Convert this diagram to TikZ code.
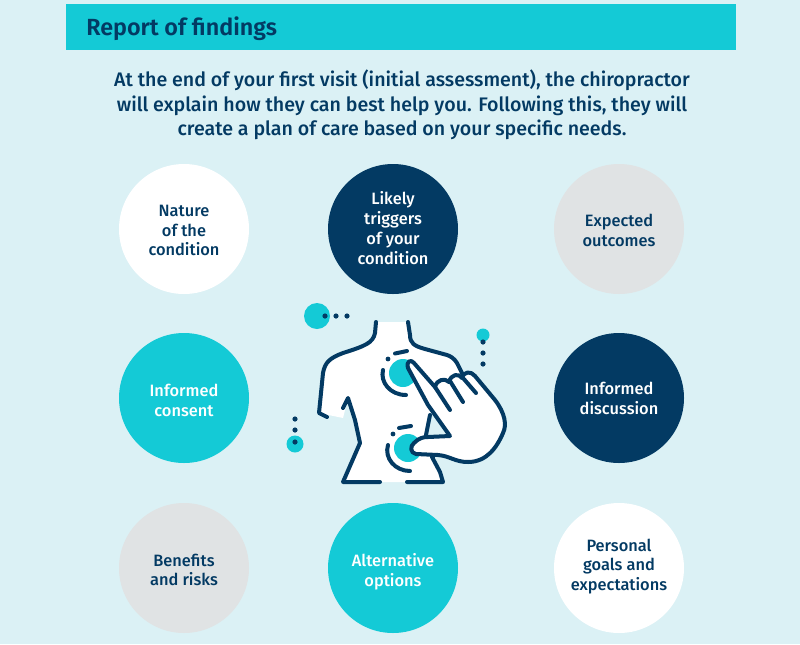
\documentclass[tikz,border=0pt]{standalone}
\usepackage{fontspec}
\setmainfont{Fira Sans Medium}[BoldFont={Fira Sans SemiBold}]
\definecolor{paleblue}{HTML}{DBF1F5}
\definecolor{teal1}{HTML}{14CAD6}
\definecolor{navy}{HTML}{033A63}
\definecolor{pale}{HTML}{E0E3E4}
\tikzset{
 disctext/.style={inner sep=0pt,align=center,font=\fontsize{12.3}{14.8}\selectfont},
 outline/.style={draw=navy,line width=3pt,line cap=round,line join=round}
}
\begin{document}
\begin{tikzpicture}[x=.75pt,y=-.75pt]
\fill[paleblue] (0,0) rectangle (800,644);
\useasboundingbox (0,0) rectangle (800,644);
\fill[teal1] (66,4) rectangle (736,50);
\node[anchor=west,inner sep=0pt,text=navy,font=\fontsize{17.5}{20}\selectfont\bfseries] (title) at (86,29) {Report of findings};
\node[align=center,text=navy,inner sep=0pt,font=\fontsize{14.7}{18.4}\selectfont] (intro) at (402,105)
 {At the end of your first visit (initial assessment), the chiropractor\\
  will explain how they can best help you. Following this, they will\\
  create a plan of care based on your specific needs.};

\fill[white] (184,229) circle (65);
\fill[navy] (393,229) circle (65);
\fill[pale] (619,229) circle (65);
\fill[teal1] (184,398) circle (65);
\fill[navy] (619,398) circle (65);
\fill[pale] (184,568) circle (65);
\fill[teal1] (393,568) circle (65);
\fill[white] (619,568) circle (65);
\node[disctext,text=navy] (nature) at (184,230.5) {Nature\\of the\\condition};
\node[disctext,text=white] (triggers) at (393,228) {Likely\\triggers\\of your\\condition};
\node[disctext,text=navy] (outcomes) at (619,230.5) {Expected\\outcomes};
\node[disctext,text=white] (consent) at (184,400.5) {Informed\\consent};
\node[disctext,text=white] (discussion) at (619,398.5) {Informed\\discussion};
\node[disctext,text=navy] (benefits) at (184,570) {Benefits\\and risks};
\node[disctext,text=white] (options) at (393,572) {Alternative\\options};
\node[disctext,text=navy] (goals) at (619,566.5) {Personal\\goals and\\expectations};

% small dots around the body
\fill[teal1] (317,316) circle (13);
\fill[teal1] (483,335) circle (6.5);
\fill[teal1] (295,444) circle (8.5);
\foreach \p in {(325,316),(336,316),(347,316),(483,342),(483,353),(483,364),(295,419),(295,430),(295,442)}
 \fill[navy] \p circle (2.6);

% body
\fill[white] (376,322) -- (375,333) .. controls (373,343) and (365,346) .. (343,353)
 .. controls (330,358) and (325,362) .. (323,373) -- (319,413) -- (343,418) -- (348,398)
 -- (355,420) -- (360,443) -- (343,482) -- (443,482) -- (440,472) -- (432,457)
 -- (426,435) -- (430,415) -- (462,373) -- (457,363)
 .. controls (454,358) and (450,356) .. (447,355) -- (425,349)
 .. controls (414,346) and (410,343) .. (410,335) -- (408,322) -- cycle;
\draw[outline] (376,322) -- (375,333) .. controls (373,343) and (365,346) .. (343,353)
 .. controls (330,358) and (325,362) .. (323,373) -- (319,413) -- (327,417);
\draw[outline] (343,408) -- (348,398) -- (355,420) -- (360,443) -- (343,482) -- (380,482);
\draw[outline] (407,482) -- (443,482) -- (440,472) -- (432,457);
\draw[outline] (408,322) -- (410,335) .. controls (410,343) and (414,346) .. (425,349) -- (447,355)
 .. controls (450,356) and (454,358) .. (457,363) -- (462,373);
\draw[outline] (430,415) -- (426,435) -- (433,457);

% contact points
\fill[teal1] (403,373) circle (14);
\fill[teal1] (408,448) circle (14);
\draw[outline] (395,353.5) -- (407,351);
\fill[navy] (388,359) circle (2.4);
\draw[outline] (383,370) .. controls (380,382) and (390,395) .. (406,395);
\draw[outline] (399,428) -- (411,426);
\fill[navy] (393,434) circle (2.4);
\draw[outline] (388,445) .. controls (384,458) and (395,471) .. (410,471);

% hand
\path[outline,fill=white] (408,368) .. controls (406,361) and (411,359) .. (414,363)
 -- (435,387) .. controls (437,379) and (445,378) .. (449,382)
 .. controls (451,374) and (459,373) .. (462,378)
 .. controls (464,371) and (471,371) .. (475,376)
 -- (495,400) .. controls (505,413) and (507,425) .. (503,433)
 .. controls (497,447) and (487,462) .. (468,462)
 .. controls (455,462) and (450,456) .. (438,455) -- (416,454)
 .. controls (410,453) and (410,446) .. (414,443)
 .. controls (419,438) and (423,437) .. (428,437) -- (450,436)
 -- (428,405) -- cycle;
\draw[outline] (435,387) -- (450,410);
\draw[outline] (450,381) -- (463,402);
\draw[outline] (463,378) -- (476,393);
\end{tikzpicture}
\end{document}
